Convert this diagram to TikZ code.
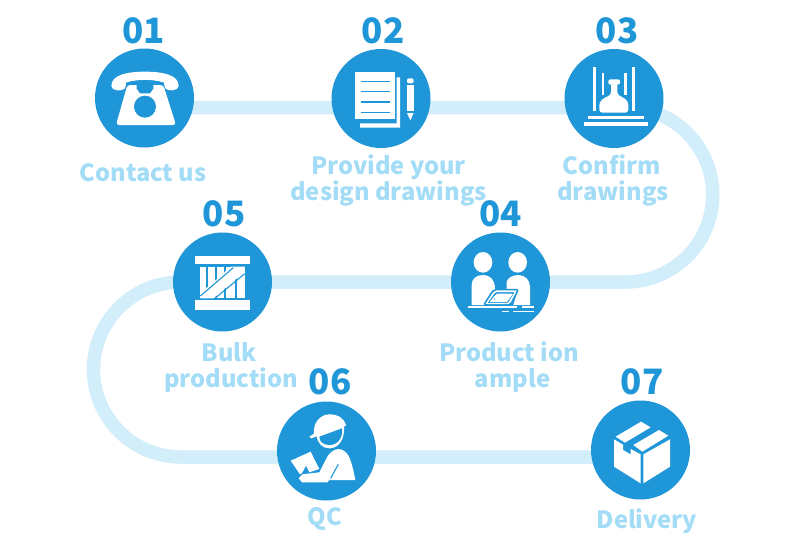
\documentclass[tikz,border=0pt]{standalone}
\usepackage{fontspec}
\setmainfont{Noto Sans CJK SC}
\usetikzlibrary{backgrounds,calc}
\definecolor{mainblue}{HTML}{1E96D8}
\definecolor{pipeblue}{HTML}{D2EEFA}
\definecolor{labelblue}{HTML}{A2DCF6}
\tikzset{
  stepdisc/.style={circle,fill=mainblue,draw=none,minimum size=99pt,inner sep=0pt},
  numlabel/.style={text=mainblue,font=\fontsize{35}{35}\selectfont\bfseries,inner sep=0pt},
  steplabel/.style={text=labelblue,font=\fontsize{23.7}{26}\selectfont\bfseries,align=center,inner sep=0pt},
  pipe/.style={draw=pipeblue,line width=13.5pt,line cap=butt},
  ic/.style={fill=white,draw=none},
  icb/.style={fill=mainblue,draw=none},
  zoomed/.style={x=0.33333pt,y=-0.33333pt},
}
\begin{document}
\begin{tikzpicture}[x=1pt,y=-1pt]
\useasboundingbox (0,0) rectangle (790,547);
% discs
\node[stepdisc] (n1) at (144.5,98) {};
\node[stepdisc] (n2) at (381,98.5) {};
\node[stepdisc] (n3) at (614,98.5) {};
\node[stepdisc] (n4) at (500.5,282) {};
\node[stepdisc] (n5) at (222.5,282) {};
\node[stepdisc] (n6) at (326.5,451) {};
\node[stepdisc] (n7) at (640.5,450) {};
% connector
\coordinate (rowa) at (0,107.5);
\coordinate (rowc) at (0,457);
\begin{pgfonlayer}{background}
\fill[white] (0,0) rectangle (790,547);
\draw[pipe] (n1 |- rowa) -- (625.5,107.5) arc[start angle=-90,end angle=90,radius=87.25] -- (181,282) arc[start angle=-90,end angle=-270,radius=87.5] -- (n7 |- rowc);
\end{pgfonlayer}
% numbers
\node[numlabel] (t1) at (143.5,31) {01};
\node[numlabel] (t2) at (383,31) {02};
\node[numlabel] (t3) at (617,31) {03};
\node[numlabel] (t4) at (500.5,214) {04};
\node[numlabel] (t5) at (224,214) {05};
\node[numlabel] (t6) at (330,382) {06};
\node[numlabel] (t7) at (642,382) {07};
% labels
\node[steplabel] (l1) at (143,172.5) {Contact us};
\node[steplabel] (l2) at (388.5,180) {Provide your\\design drawings};
\node[steplabel] (l3) at (613,180) {Confirm\hspace*{3pt}\\drawings};
\node[steplabel] (l4) at (509,367) {Product ion\\\hspace*{7pt}ample};
\node[steplabel] (l5) at (231,367) {Bulk\hspace*{4pt}\\production};
\node[steplabel] (l6) at (325,519) {QC};
\node[steplabel] (l7) at (647,521) {Delivery};
% icon 1: telephone
\begin{scope}[shift={(90,10)},zoomed]
\fill[ic,rounded corners=3pt] (78,345) -- (112,225) -- (220,225) -- (258,345) -- cycle;
\fill[ic] (64,228) .. controls (64,195) and (110,185) .. (165,185) .. controls (220,185) and (266,195) .. (266,228) .. controls (266,243) and (232,245) .. (226,235) .. controls (222,225) and (222,218) .. (222,218) .. controls (190,207) and (140,207) .. (108,218) .. controls (108,225) and (108,230) .. (104,236) .. controls (96,245) and (64,243) .. (64,228) -- cycle;
\fill[icb] (140,222) -- (190,222) -- (190,236) -- (180,250) -- (150,250) -- (140,236) -- cycle;
\draw[mainblue,line width=1.2pt] (108,221) .. controls (140,210) and (190,210) .. (222,221);
\fill[icb] (165,290) circle[radius=33];
\end{scope}
% icon 2: documents
\begin{scope}[shift={(320,40)},zoomed]
\fill[ic] (105,97) rectangle (225,237);
\fill[ic] (230,112) -- (240,112) -- (240,263) -- (120,263) -- (120,250) -- (230,250) -- cycle;
\foreach \yy in {125,155,186,217} \draw[mainblue,line width=1.1pt] (122,\yy) -- (210,\yy);
\fill[ic,rounded corners=2pt] (261,130) -- (261,115) -- (281,115) -- (281,130) -- cycle;
\fill[ic] (261,134) rectangle (281,214);
\fill[ic] (261,219) -- (281,219) -- (271,241) -- cycle;
\end{scope}
% icon 3: drawing / weight
\begin{scope}[shift={(555,40)},zoomed]
\fill[ic] (113,80) rectangle (122,213);
\fill[ic] (232,80) rectangle (241,213);
\fill[ic] (140,100) rectangle (148,165);
\fill[ic] (207,100) rectangle (215,165);
\fill[ic,rounded corners=2pt] (160,118) rectangle (195,134);
\fill[ic,rounded corners=3pt] (133,218) -- (133,186) -- (150,172) -- (168,165) -- (168,128) -- (187,128) -- (187,165) -- (205,172) -- (220,186) -- (220,218) -- cycle;
\fill[ic] (100,228) rectangle (266,238);
\fill[ic] (86,246) rectangle (280,257);
\end{scope}
% icon 5: crate
\begin{scope}[shift={(165,225)},zoomed]
\fill[ic] (91,92) rectangle (254,118);
\fill[ic] (91,226) rectangle (254,254);
\fill[ic] (106,125) rectangle (239,220);
\foreach \xx in {125,153,180,212} \draw[mainblue,line width=1.8pt] (\xx,125) -- (\xx,220);
\fill[ic] (106,205) -- (198,125) -- (239,125) -- (239,140) -- (145,220) -- (106,220) -- cycle;
\draw[mainblue,line width=1.1pt] (106,213) -- (205,128);
\draw[mainblue,line width=1.1pt] (150,220) -- (239,146);
\end{scope}
% icon 4: two people
\begin{scope}[shift={(445,225)},zoomed]
\fill[ic] (114,112) ellipse[x radius=28,y radius=31];
\fill[ic] (218,112) ellipse[x radius=28,y radius=31];
\fill[ic] (80,240) -- (80,180) .. controls (80,160) and (95,150) .. (115,150) .. controls (135,150) and (150,165) .. (150,190) -- (150,200) -- (125,238) -- (125,240) -- cycle;
\fill[ic] (185,194) -- (185,170) .. controls (188,158) and (205,150) .. (220,150) .. controls (240,150) and (255,165) .. (255,185) -- (255,240) -- (205,240) -- (218,196) -- cycle;
\draw[mainblue,line width=1.6pt,fill=white,rounded corners=2pt,line join=round] (146,194) -- (220,194) -- (196,240) -- (116,240) -- cycle;
\draw[white,line width=1.1pt,fill=mainblue,rounded corners=1.5pt,line join=round] (150,200) -- (212,200) -- (190,236) -- (124,236) -- cycle;
\fill[ic,rounded corners=1pt] (155,206) -- (205,206) -- (186,231) -- (133,231) -- cycle;
\fill[icb] (149,222) circle[radius=1.8];
\fill[ic] (68,244) rectangle (215,250);
\fill[ic] (232,244) rectangle (267,249);
\fill[ic] (172,257) rectangle (192,262);
\fill[ic] (203,257) rectangle (267,262);
\end{scope}
% icon 6: inspector
\begin{scope}[shift={(270,395)},zoomed]
\fill[ic] (118,125) -- (132,116) .. controls (128,85) and (150,58) .. (178,58) .. controls (205,58) and (222,70) .. (228,90) -- (226,93) -- (124,130) -- cycle;
\fill[ic] (140,122) .. controls (142,145) and (158,160) .. (178,160) .. controls (205,160) and (225,135) .. (222,92) -- cycle;
\fill[icb] (148,125) -- (216,100) .. controls (220,125) and (205,150) .. (178,150) .. controls (160,150) and (148,140) .. (148,125) -- cycle;
\fill[ic] (172,185) .. controls (185,165) and (200,160) .. (212,163) .. controls (238,170) and (245,200) .. (256,255) -- (178,255) -- (172,262) -- (96,262) -- (86,250) -- (97,238) -- (148,232) -- cycle;
\draw[mainblue,line width=1.1pt] (205,208) -- (182,250);
\fill[ic] (62,197) -- (122,170) -- (148,222) -- (118,232) -- (108,212) -- (96,234) -- (90,238) -- cycle;
\end{scope}
% icon 7: box
\begin{scope}[shift={(585,395)},zoomed]
\fill[ic] (87,133) -- (114,149) -- (114,165) -- (137,178) -- (137,162) -- (167,178) -- (167,265) -- (87,215) -- cycle;
\fill[ic] (175,178) -- (255,133) -- (255,215) -- (175,265) -- cycle;
\fill[ic] (92,125) -- (168,80) -- (197,97) -- (120,143) -- cycle;
\fill[ic] (145,150) -- (222,105) -- (250,122) -- (172,170) -- cycle;
\end{scope}
\end{tikzpicture}
\end{document}
